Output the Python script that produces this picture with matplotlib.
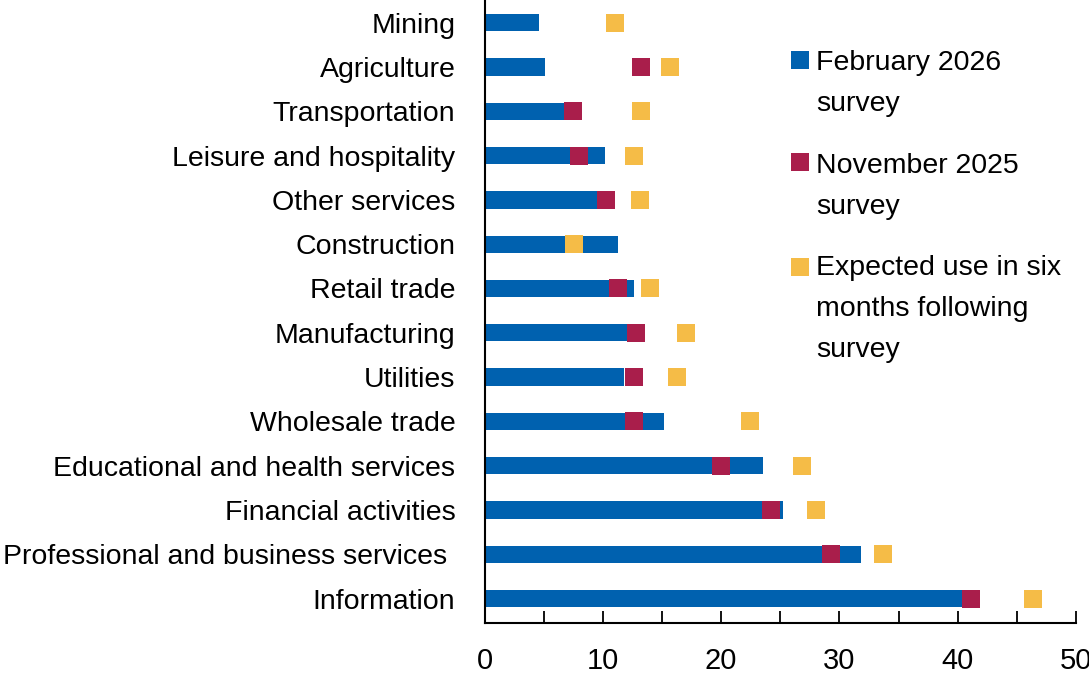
import numpy as np
import matplotlib
matplotlib.use("Agg")
import matplotlib.pyplot as plt
from matplotlib.patches import Rectangle

plt.rcParams['font.family'] = ['Liberation Sans', 'DejaVu Sans']

industries = ["Mining", "Agriculture", "Transportation", "Leisure and hospitality",
              "Other services", "Construction", "Retail trade", "Manufacturing",
              "Utilities", "Wholesale trade", "Educational and health services",
              "Financial activities", "Professional and business services ",
              "Information"]
feb_2026 = [4.6, 5.1, 7.9, 10.2, 9.6, 11.3, 12.6, 12.8, 11.8, 15.2, 23.5, 25.2, 31.8, 41.2]
nov_2025 = [np.nan, 13.2, 7.5, 8.0, 10.3, np.nan, 11.3, 12.8, 12.6, 12.6, 20.0, 24.2, 29.3, 41.1]
expected = [11.0, 15.7, 13.2, 12.6, 13.1, 7.6, 14.0, 17.0, 16.3, 22.4, 26.8, 28.0, 33.7, 46.4]

legend_labels = [["February 2026", "survey"],
                 ["November 2025", "survey"],
                 ["Expected use in six", "months following", "survey"]]

blue = "#0061AF"
red = "#A91E4B"
yellow = "#F5BC47"

fig = plt.figure(figsize=(10.89, 6.78), dpi=100)
ax = fig.add_axes([0.445, 0.081, 0.543, 0.919])

y = np.arange(len(industries))
ax.barh(y, feb_2026, height=0.39, color=blue, zorder=2)
ax.plot(nov_2025, y, 's', ms=13, mew=0, color=red, zorder=3)
ax.plot(expected, y, 's', ms=13, mew=0, color=yellow, zorder=4)

ax.set_xlim(0, 50)
ax.set_ylim(13.55, -0.51)
ax.set_yticks(y)
ax.set_yticklabels(industries, fontsize=20.5)
ax.tick_params(axis='y', length=0, pad=21)
ax.set_xticks(np.arange(0, 51, 10))
ax.set_xticks(np.arange(0, 51, 5), minor=True)
ax.tick_params(axis='x', which='both', direction='in', length=8.5, width=1.3,
               labelsize=21, pad=17)
for s in ['top', 'right']:
    ax.spines[s].set_visible(False)
for s in ['left', 'bottom']:
    ax.spines[s].set_linewidth(1.5)
    ax.spines[s].set_color('black')

# legend drawn by hand so squares line up with the first text line
W, H = 1089, 678
sq_top = [51, 153, 258]
first_base = [70, 173, 275]
for color, top, base, lines in zip([blue, red, yellow], sq_top, first_base, legend_labels):
    fig.add_artist(Rectangle((791 / W, 1 - (top + 18) / H), 18 / W, 18 / H,
                             transform=fig.transFigure, color=color, lw=0))
    for k, line in enumerate(lines):
        fig.text(816 / W, 1 - (base + 41 * k) / H, line, fontsize=20.5,
                 ha='left', va='baseline')

fig.savefig("out.png", dpi=100)
